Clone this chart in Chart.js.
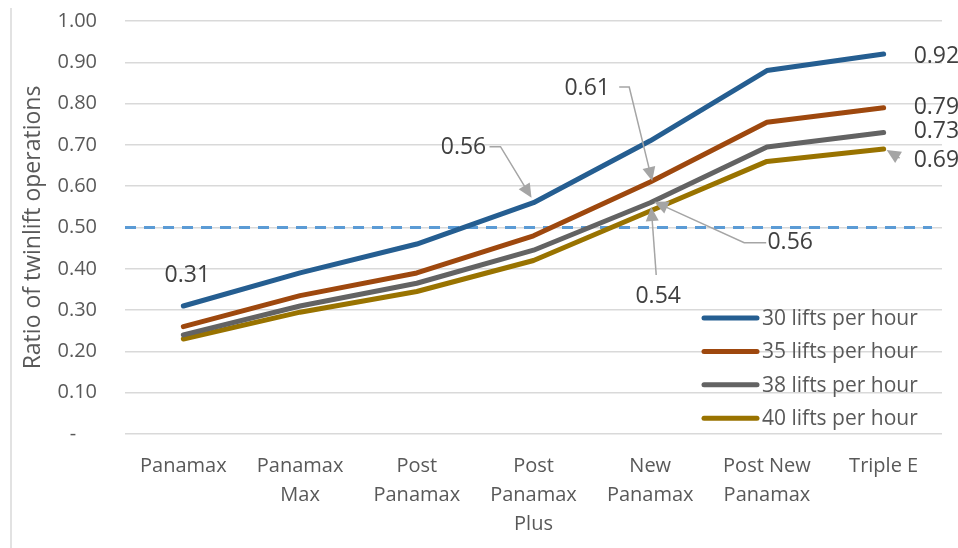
<!DOCTYPE html>
<html>
<head>
<meta charset="utf-8">
<script src="https://cdn.jsdelivr.net/npm/chart.js@4.4.0/dist/chart.umd.min.js"></script>
<style>
  html, body { margin: 0; padding: 0; background: #fff; }
  #wrap { position: relative; width: 958px; height: 548px; }
</style>
</head>
<body>
<div id="wrap"><canvas id="chart" width="958" height="548"></canvas></div>
<script>
const categories = [
  ["Panamax"], ["Panamax", "Max"], ["Post", "Panamax"], ["Post", "Panamax", "Plus"],
  ["New", "Panamax"], ["Post New", "Panamax"], ["Triple E"]
];
const lifts30 = [0.31, 0.39, 0.46, 0.56, 0.71, 0.88, 0.92];
const lifts35 = [0.26, 0.335, 0.39, 0.48, 0.61, 0.755, 0.79];
const lifts38 = [0.24, 0.31, 0.365, 0.445, 0.56, 0.695, 0.73];
const lifts40 = [0.23, 0.295, 0.345, 0.42, 0.54, 0.66, 0.69];
const seriesNames = ["30 lifts per hour", "35 lifts per hour", "38 lifts per hour", "40 lifts per hour"];
const colors = ["#255e91", "#9e480e", "#636363", "#997300"];
const threshold = 0.5;

// callouts: dataset, point, label offset, leader path (offsets from the point)
const callouts = [
  { ds: 0, i: 0, dx: 4, dy: -31 },
  { ds: 0, i: 3, dx: -70, dy: -55, path: [[-44, -56], [-33, -56], [-2, -5]] },
  { ds: 1, i: 4, dx: -63, dy: -94, path: [[-31, -95], [-21, -95], [2, -1]] },
  { ds: 2, i: 4, dx: 140, dy: 40, path: [[116, 40], [94, 40], [4, -1]] },
  { ds: 3, i: 4, dx: 8, dy: 85, path: [[6, 64], [1, -4]] },
  { ds: 0, i: 6, dx: 53, dy: 2 },
  { ds: 1, i: 6, dx: 53, dy: 0 },
  { ds: 2, i: 6, dx: 53, dy: -1 },
  { ds: 3, i: 6, dx: 53, dy: 11, path: [[16, 9], [3, 1]] }
];

const FONT = "'Open Sans', 'DejaVu Sans', sans-serif";

function arrowHead(ctx, from, to) {
  const ang = Math.atan2(to[1] - from[1], to[0] - from[0]);
  const len = 14, half = 6.5;
  ctx.beginPath();
  ctx.moveTo(to[0], to[1]);
  ctx.lineTo(to[0] - len * Math.cos(ang) + half * Math.sin(ang), to[1] - len * Math.sin(ang) - half * Math.cos(ang));
  ctx.lineTo(to[0] - len * Math.cos(ang) - half * Math.sin(ang), to[1] - len * Math.sin(ang) + half * Math.cos(ang));
  ctx.closePath();
  ctx.fill();
}

const extras = {
  id: "extras",
  beforeDraw(chart) {
    const ctx = chart.ctx;
    ctx.save();
    ctx.strokeStyle = "#d9d9d9";
    ctx.lineWidth = 1.5;
    ctx.beginPath();
    ctx.moveTo(11, 8);
    ctx.lineTo(11, 548);
    ctx.stroke();
    ctx.restore();
  },
  beforeDatasetsDraw(chart) {
    const ctx = chart.ctx, a = chart.chartArea;
    const y = chart.scales.y.getPixelForValue(threshold);
    ctx.save();
    ctx.strokeStyle = "#5b9bd5";
    ctx.lineWidth = 3;
    ctx.setLineDash([11, 8]);
    ctx.beginPath();
    ctx.moveTo(a.left, y);
    ctx.lineTo(a.right - 10, y);
    ctx.stroke();
    ctx.restore();
  },
  afterDraw(chart) {
    const ctx = chart.ctx, a = chart.chartArea;
    ctx.save();
    // callouts
    ctx.font = "23px " + FONT;
    ctx.textBaseline = "middle";
    callouts.forEach(c => {
      const p = chart.getDatasetMeta(c.ds).data[c.i];
      const v = chart.data.datasets[c.ds].data[c.i];
      ctx.fillStyle = "#404040";
      ctx.textAlign = c.i === 6 ? "left" : "center";
      const tx = c.i === 6 ? p.x + 30 : p.x + c.dx;
      ctx.fillText(v.toFixed(2), tx, p.y + c.dy);
      if (c.path) {
        const pts = c.path.map(o => [p.x + o[0], p.y + o[1]]);
        ctx.strokeStyle = "#a5a5a5";
        ctx.fillStyle = "#a5a5a5";
        ctx.lineWidth = 1.5;
        const n = pts.length;
        const last = pts[n - 1], prev = pts[n - 2];
        const ang = Math.atan2(last[1] - prev[1], last[0] - prev[0]);
        ctx.beginPath();
        ctx.moveTo(pts[0][0], pts[0][1]);
        for (let k = 1; k < n - 1; k++) ctx.lineTo(pts[k][0], pts[k][1]);
        ctx.lineTo(last[0] - 10 * Math.cos(ang), last[1] - 10 * Math.sin(ang));
        ctx.stroke();
        arrowHead(ctx, prev, last);
      }
    });
    // legend inside the plot
    ctx.font = "21px " + FONT;
    ctx.textAlign = "left";
    ctx.lineCap = "round";
    chart.data.datasets.forEach((d, k) => {
      const y = a.bottom - 116 + k * 33.4;
      ctx.strokeStyle = d.borderColor;
      ctx.lineWidth = 5;
      ctx.beginPath();
      ctx.moveTo(a.right - 238, y);
      ctx.lineTo(a.right - 185, y);
      ctx.stroke();
      ctx.fillStyle = "#595959";
      ctx.fillText(d.label, a.right - 180, y + 1);
    });
    ctx.restore();
  }
};

const datasets = [lifts30, lifts35, lifts38, lifts40].map((vals, k) => ({
  label: seriesNames[k],
  data: vals,
  borderColor: colors[k],
  backgroundColor: colors[k],
  borderWidth: 5,
  borderCapStyle: "round",
  borderJoinStyle: "round",
  pointRadius: 0,
  tension: 0,
  fill: false
}));

new Chart(document.getElementById("chart").getContext("2d"), {
  type: "line",
  data: { labels: categories, datasets: datasets },
  plugins: [extras],
  options: {
    responsive: false,
    animation: false,
    layout: { padding: { left: 12, top: 21, right: 16, bottom: 0 } },
    plugins: { legend: { display: false }, tooltip: { enabled: false } },
    scales: {
      x: {
        offset: true,
        grid: { display: false },
        border: { display: false },
        ticks: {
          color: "#595959",
          font: { family: FONT, size: 20, lineHeight: 1.45 },
          padding: 10,
          maxRotation: 0,
          autoSkip: false
        },
        afterFit: s => { s.height = 114; }
      },
      y: {
        min: 0,
        max: 1,
        grid: { color: "#d9d9d9", lineWidth: 1.5, drawTicks: false },
        border: { display: false },
        ticks: {
          stepSize: 0.1,
          padding: 28,
          color: "#595959",
          font: { family: FONT, size: 20 },
          callback: v => (Math.abs(v) < 1e-9 ? "-    " : v.toFixed(2))
        },
        title: {
          display: true,
          text: "Ratio of twinlift operations",
          color: "#595959",
          font: { family: FONT, size: 23 },
          padding: { top: 8, bottom: 0 }
        },
        afterFit: s => { s.width = 113; s.paddingTop = 0; s.paddingBottom = 0; }
      }
    }
  }
});
</script>
</body>
</html>
